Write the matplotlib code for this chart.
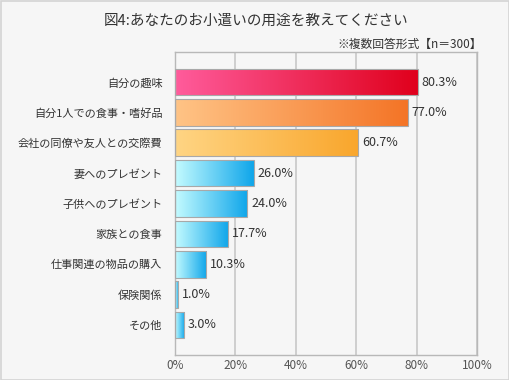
import numpy as np
import matplotlib.pyplot as plt
from matplotlib.colors import LinearSegmentedColormap
from matplotlib.patches import Rectangle

plt.rcParams['font.family'] = ['Noto Sans CJK JP', 'DejaVu Sans']

categories = ['自分の趣味', '自分1人での食事・嗜好品', '会社の同僚や友人との交際費',
              '妻へのプレゼント', '子供へのプレゼント', '家族との食事',
              '仕事関連の物品の購入', '保険関係', 'その他']
values = [80.3, 77.0, 60.7, 26.0, 24.0, 17.7, 10.3, 1.0, 3.0]
value_labels = ['80.3%', '77.0%', '60.7%', '26.0%', '24.0%', '17.7%', '10.3%', '1.0%', '3.0%']
xticks = [0, 20, 40, 60, 80, 100]
xtick_labels = ['0%', '20%', '40%', '60%', '80%', '100%']

# gradient start/end colours per bar
grad_red = ('#ff5c9c', '#e0001c')
grad_orange = ('#ffc486', '#f47426')
grad_yellow = ('#ffd584', '#f9a62c')
grad_blue = ('#c4fbff', '#0fa6ea')
gradients = [grad_red, grad_orange, grad_yellow] + [grad_blue] * 6

bg = '#f6f6f6'
fig = plt.figure(figsize=(5.1, 3.8), dpi=100, facecolor=bg)
fig.patches.append(Rectangle((0.001, 0.001), 0.997, 0.997, transform=fig.transFigure,
                             fill=False, edgecolor='#d4d4d4', linewidth=1.2))

ax = fig.add_axes([175 / 510, 25 / 380, 302 / 510, 303 / 380])
ax.set_facecolor(bg)

y = np.arange(len(categories))
h = 0.88
bars = ax.barh(y, values, height=h, color='none', edgecolor='#a8a8a8', linewidth=0.8, zorder=3)

grad = np.linspace(0, 1, 256).reshape(1, -1)
for bar, (c0, c1) in zip(bars, gradients):
    cmap = LinearSegmentedColormap.from_list('g', [c0, c1])
    x0, y0 = bar.get_x(), bar.get_y()
    w, hh = bar.get_width(), bar.get_height()
    im = ax.imshow(grad, cmap=cmap, aspect='auto', extent=(x0, x0 + w, y0 + hh, y0),
                   zorder=2, interpolation='bicubic')
    im.set_clip_path(bar)

for yi, v, lab in zip(y, values, value_labels):
    ax.text(v + 1.2, yi, lab, va='center', ha='left', fontsize=9, color='#333333', zorder=4)

ax.set_xlim(0, 100)
ax.set_ylim(len(categories) - 0.01, -0.99)
ax.set_xticks(xticks)
ax.set_xticklabels(xtick_labels, fontsize=8.5, color='#555555')
ax.set_yticks(y)
ax.set_yticklabels(categories, fontsize=8, color='#333333')
ax.tick_params(axis='x', length=0, pad=3)
ax.tick_params(axis='y', length=0, pad=9)
ax.grid(axis='x', color='#c8c8c8', linewidth=1.2, zorder=0)
ax.set_axisbelow(True)
for s in ax.spines.values():
    s.set_color('#b8b8b8')
    s.set_linewidth(1.0)

fig.text(256 / 510, 1 - 21 / 380, '図4:あなたのお小遣いの用途を教えてください',
         ha='center', va='center', fontsize=10.5, color='#333333')
fig.text(482 / 510, 1 - 44 / 380, '※複数回答形式【n＝300】',
         ha='right', va='center', fontsize=8.5, color='#333333')

fig.savefig('out.png', dpi=100, facecolor=bg)
